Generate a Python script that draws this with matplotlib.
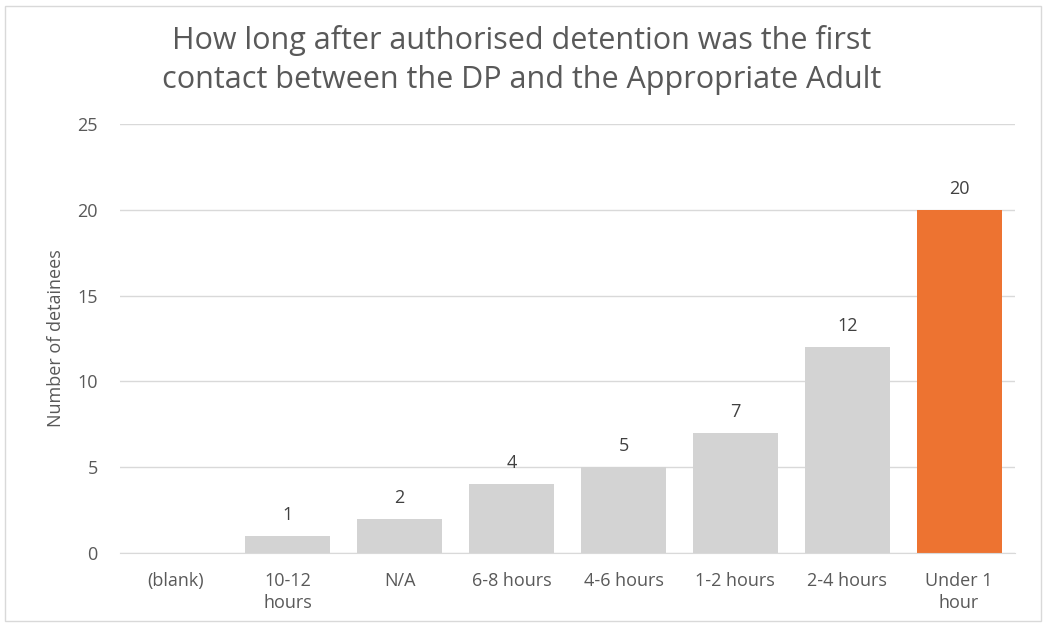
import matplotlib.pyplot as plt
from matplotlib.patches import Rectangle

categories = ['(blank)', '10-12\nhours', 'N/A', '6-8 hours', '4-6 hours',
              '1-2 hours', '2-4 hours', 'Under 1\nhour']
values = [0, 1, 2, 4, 5, 7, 12, 20]
labels = ['', '1', '2', '4', '5', '7', '12', '20']
bar_colors = ['#d3d3d3'] * 7 + ['#ed7331']

plt.rcParams['font.family'] = ['Open Sans', 'DejaVu Sans']

fig = plt.figure(figsize=(10.43, 6.26), dpi=100)
ax = fig.add_axes([120 / 1043, 1 - 553 / 626, (1015 - 120) / 1043, (553 - 124) / 626])

x = range(len(categories))
bars = ax.bar(x, values, width=0.76, color=bar_colors, zorder=2)

# value labels above bars (blank has none)
for b, v, lab in zip(bars, values, labels):
    if lab:
        ax.text(b.get_x() + b.get_width() / 2, v + 0.7, lab,
                ha='center', va='bottom', fontsize=13, color='#404040')

ax.set_xlim(-0.5, len(categories) - 0.5)
ax.set_ylim(0, 25)
ax.set_yticks([0, 5, 10, 15, 20, 25])
ax.set_xticks(list(x))
ax.set_xticklabels(categories, fontsize=13, color='#595959', linespacing=1.25)
ax.tick_params(axis='y', labelsize=13, labelcolor='#595959', length=0, pad=16)
ax.tick_params(axis='x', length=0, pad=14)
ax.grid(axis='y', color='#d9d9d9', linewidth=1, zorder=0)
for s in ['top', 'right', 'left']:
    ax.spines[s].set_visible(False)
ax.spines['bottom'].set_color('#d9d9d9')
ax.set_ylabel('Number of detainees', fontsize=13, color='#595959', labelpad=9)

fig.text(0.5, 1 - 60 / 626, 'How long after authorised detention was the first\n'
         'contact between the DP and the Appropriate Adult',
         ha='center', va='center', fontsize=22, color='#595959', linespacing=1.35)

# light chart-area border
fig.patches.append(Rectangle((5 / 1043, 5 / 626), 1036 / 1043, 615 / 626,
                             transform=fig.transFigure, fill=False,
                             edgecolor='#d9d9d9', linewidth=1))

fig.savefig('out.png', dpi=100)
